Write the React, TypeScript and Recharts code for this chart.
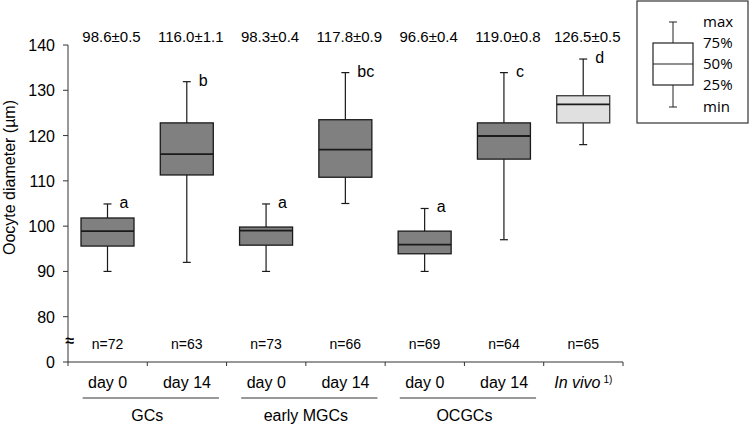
import React from 'react';
import { ComposedChart, Bar, XAxis, YAxis, Customized } from 'recharts';

const categories = ['day 0', 'day 14', 'day 0', 'day 14', 'day 0', 'day 14', 'In vivo'];
const groups = ['GCs', 'GCs', 'early MGCs', 'early MGCs', 'OCGCs', 'OCGCs', ''];
const mins = [90, 92, 90, 105, 90, 97, 118];
const q1s = [95.6, 111.3, 95.8, 110.8, 93.9, 114.8, 122.8];
const medians = [98.9, 115.9, 99, 116.9, 95.9, 119.9, 126.9];
const q3s = [101.8, 122.8, 99.8, 123.5, 98.9, 122.8, 128.8];
const maxs = [104.9, 131.9, 104.9, 133.9, 103.9, 133.9, 136.9];
const meanLabels = ['98.6±0.5', '116.0±1.1', '98.3±0.4', '117.8±0.9', '96.6±0.4', '119.0±0.8', '126.5±0.5'];
const letters = ['a', 'b', 'a', 'bc', 'a', 'c', 'd'];
const nLabels = ['n=72', 'n=63', 'n=73', 'n=66', 'n=69', 'n=64', 'n=65'];
// 70 on the axis stands for the broken-off 0
const yTicks = [70, 80, 90, 100, 110, 120, 130, 140];

const MEAN_LEVEL = 140.7;
const N_LEVEL = 72.8;

const W = 752;
const H = 426;
const M = { top: 45, right: 129, bottom: 0, left: 0 };
const Y_W = 68;
const X_H = 64;
const STEP = (W - M.right - M.left - Y_W) / categories.length;

const FONT = '"Liberation Sans", Arial, sans-serif';

const data = categories.map((c, i) => ({
    name: c,
    group: groups[i],
    range: [mins[i], maxs[i]],
    min: mins[i],
    q1: q1s[i],
    median: medians[i],
    q3: q3s[i],
    max: maxs[i],
    mean: meanLabels[i],
    letter: letters[i],
    n: nLabels[i],
    light: c === 'In vivo',
}));

const BoxShape = (props: any) => {
    const { x, y, width, height, payload } = props;
    const top = Math.min(y, y + height);
    const h = Math.abs(height);
    const lo = payload.min;
    const hi = payload.max;
    const py = (v: number) => top + ((hi - v) / (hi - lo)) * h;
    const cx = x + width / 2;
    const fill = payload.light ? '#e0e0e0' : '#808080';
    const stroke = payload.light ? '#3a3a3a' : '#1a1a1a';
    return (
        <g>
            <line x1={cx} x2={cx} y1={py(payload.max)} y2={py(payload.min)} stroke="#1a1a1a" strokeWidth={1.2} />
            <line x1={cx - 4} x2={cx + 4} y1={py(payload.max)} y2={py(payload.max)} stroke="#1a1a1a" strokeWidth={1.2} />
            <line x1={cx - 4} x2={cx + 4} y1={py(payload.min)} y2={py(payload.min)} stroke="#1a1a1a" strokeWidth={1.2} />
            <rect x={x} y={py(payload.q3)} width={width} height={py(payload.q1) - py(payload.q3)} fill={fill} stroke={stroke} strokeWidth={1.3} />
            <line x1={x} x2={x + width} y1={py(payload.median)} y2={py(payload.median)} stroke="#1a1a1a" strokeWidth={1.8} />
            <text x={cx + 12} y={py(payload.max) + 4} fontSize={16} fontFamily={FONT} fill="#000">{payload.letter}</text>
            <text x={cx + 4} y={py(MEAN_LEVEL)} fontSize={15} fontFamily={FONT} fill="#000" textAnchor="middle">{payload.mean}</text>
            <text x={cx} y={py(N_LEVEL)} fontSize={14} fontFamily={FONT} fill="#000" textAnchor="middle">{payload.n}</text>
        </g>
    );
};

const XTick = (props: any) => {
    const { x, y, payload } = props;
    const i = payload.index;
    const value = payload.value;
    const isLast = i === categories.length - 1;
    const grp = groups[i];
    return (
        <g>
            <line x1={x - STEP / 2} x2={x - STEP / 2} y1={y} y2={y + 4} stroke="#333" />
            {isLast && <line x1={x + STEP / 2} x2={x + STEP / 2} y1={y} y2={y + 4} stroke="#333" />}
            {value === 'In vivo' ? (
                <text x={x} y={y + 26} fontSize={16} fontFamily={FONT} fill="#000" textAnchor="middle">
                    <tspan fontStyle="italic">In vivo</tspan>
                    <tspan fontSize={10} dx={3} dy={-5}>1)</tspan>
                </text>
            ) : (
                <text x={x} y={y + 26} fontSize={16} fontFamily={FONT} fill="#000" textAnchor="middle">{value}</text>
            )}
            {i % 2 === 1 && grp && (
                <g>
                    <line x1={x - STEP - 25} x2={x + 32} y1={y + 36} y2={y + 36} stroke="#333" strokeWidth={1} />
                    <text x={x - STEP / 2} y={y + 59} fontSize={16} fontFamily={FONT} fill="#000" textAnchor="middle">{grp}</text>
                </g>
            )}
        </g>
    );
};

const YTick = (props: any) => {
    const { x, y, payload } = props;
    const label = payload.value === 70 ? '0' : String(payload.value);
    return (
        <g>
            <text x={x - 6} y={y} dy={6} fontSize={16} fontFamily={FONT} fill="#000" textAnchor="end">{label}</text>
            {payload.value === 70 && (
                <text x={x + 9} y={y - 22} fontSize={16} fontWeight="bold" fontFamily={FONT} fill="#000" textAnchor="middle" dominantBaseline="central">≈</text>
            )}
        </g>
    );
};

const YLabel = (props: any) => {
    const { viewBox } = props;
    const cy = viewBox.y + viewBox.height / 2 - 26;
    return (
        <text x={9} y={cy} transform={`rotate(-90, 9, ${cy})`} fontSize={16} fontFamily={FONT} fill="#000" textAnchor="middle" dominantBaseline="central">
            Oocyte diameter (µm)
        </text>
    );
};

const LegendBox = () => {
    const bx = 653;
    const bw = 40;
    const cx = bx + bw / 2;
    const rows = [
        { t: 'max', y: 22 },
        { t: '75%', y: 43 },
        { t: '50%', y: 64 },
        { t: '25%', y: 85 },
        { t: 'min', y: 107 },
    ];
    return (
        <g>
            <rect x={637} y={1} width={111} height={122} fill="#fff" stroke="#333" strokeWidth={1.2} />
            <line x1={cx} x2={cx} y1={22} y2={107} stroke="#222" />
            <line x1={cx - 4} x2={cx + 4} y1={22} y2={22} stroke="#222" />
            <line x1={cx - 4} x2={cx + 4} y1={107} y2={107} stroke="#222" />
            <rect x={bx} y={43} width={bw} height={42} fill="#fff" stroke="#222" strokeWidth={1.2} />
            <line x1={bx} x2={bx + bw} y1={64} y2={64} stroke="#222" strokeWidth={1.2} />
            {rows.map((r) => (
                <text key={r.t} x={703} y={r.y} dy={5} fontSize={15} fontFamily='"Open Sans", "Noto Sans", sans-serif' fill="#000">{r.t}</text>
            ))}
        </g>
    );
};

export default function App() {
    return (
        <div style={{ position: 'absolute', left: 0, top: 0, width: W, height: H, background: '#fff' }}>
            <ComposedChart width={W} height={H} data={data} margin={M}>
                <XAxis
                    dataKey="name"
                    height={X_H}
                    tickLine={false}
                    tickSize={0}
                    tickMargin={0}
                    axisLine={{ stroke: '#333' }}
                    tick={<XTick />}
                    interval={0}
                />
                <YAxis
                    type="number"
                    domain={[70, 140]}
                    ticks={yTicks}
                    width={Y_W}
                    tickSize={5}
                    tickLine={{ stroke: '#333' }}
                    axisLine={{ stroke: '#333' }}
                    tick={<YTick />}
                    label={<YLabel />}
                />
                <Bar dataKey="range" barSize={53} shape={<BoxShape />} isAnimationActive={false} />
                <Customized component={<LegendBox />} />
            </ComposedChart>
        </div>
    );
}
